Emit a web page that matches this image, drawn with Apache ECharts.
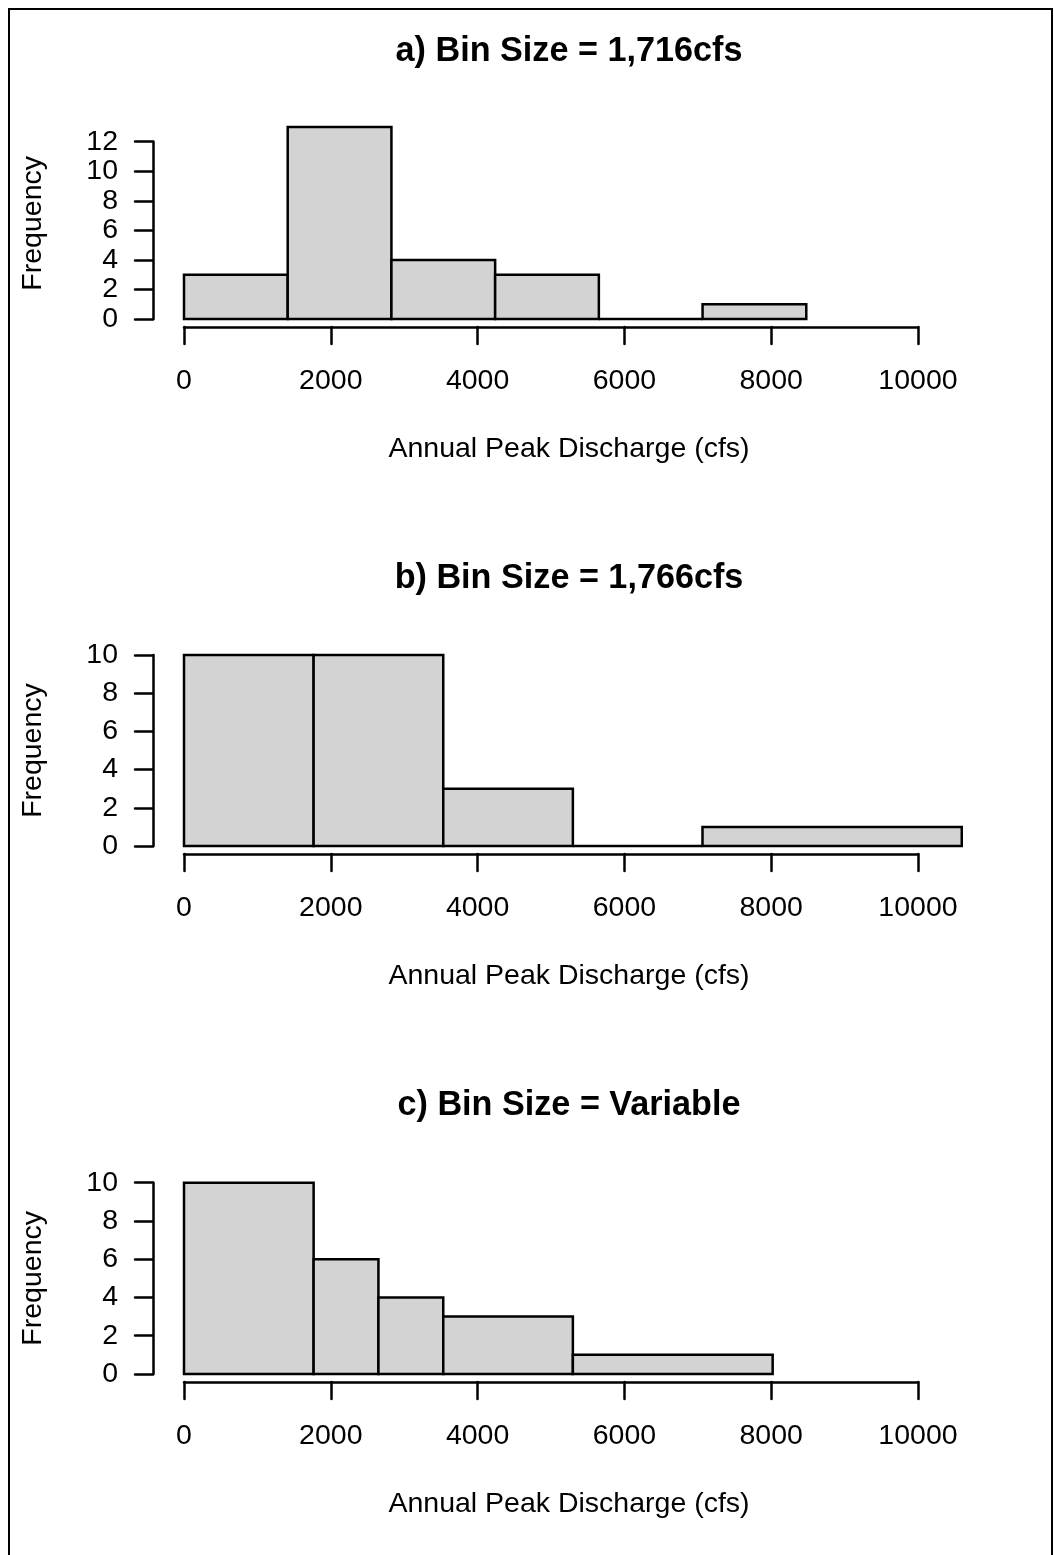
<!DOCTYPE html>
<html>
<head>
<meta charset="utf-8">
<title>Annual Peak Discharge Histograms</title>
<script src="https://cdn.jsdelivr.net/npm/echarts@6/dist/echarts.min.js"></script>
<style>
  html, body { margin: 0; padding: 0; background: #ffffff; }
  #chart { width: 1054px; height: 1555px; }
</style>
</head>
<body>
<div id="chart"></div>
<script>
// Histogram bin edges (cfs) and counts for each panel
const breaksA = [0, 1413, 2826, 4239, 5652, 7065, 8478];
const countsA = [3, 13, 4, 3, 0, 1];

const breaksB = [0, 1766, 3532, 5298, 7064, 10596];
const countsB = [10, 10, 3, 0, 1];

const breaksC = [0, 1766, 2649, 3532, 5298, 8020];
const countsC = [10, 6, 4, 3, 1];

const panelTitles = ['a) Bin Size = 1,716cfs', 'b) Bin Size = 1,766cfs', 'c) Bin Size = Variable'];
const xAxisTitle = 'Annual Peak Discharge (cfs)';
const yAxisTitle = 'Frequency';

// Axis ranges / tick steps
const xMin = 0, xMax = 10000, xStep = 2000;
const yMaxes = [12, 10, 10];
const yStep = 2;

const FONT = '"Liberation Sans", Arial, Helvetica, sans-serif';
const BASE = 28.5;
const LW = 2.5;

function toBins(breaks, counts) {
  return counts.map((c, i) => [breaks[i], breaks[i + 1], c]);
}
const binsList = [toBins(breaksA, countsA), toBins(breaksB, countsB), toBins(breaksC, countsC)];

// Grid boxes: x spans 0..10000, y spans 0..top tick
const grids = [
  { left: 184, width: 734, top: 141.7, height: 177.3 },
  { left: 184, width: 734, top: 655, height: 191 },
  { left: 184, width: 734, top: 1182.7, height: 191.3 }
];
const yNameShift = [14, 0, 0];
const titleTops = [34.5, 561.5, 1088.5];

const axisLineStyle = { color: '#000', width: LW, cap: 'round' };

const option = {
  animation: false,
  backgroundColor: '#ffffff',
  title: panelTitles.map((t, i) => ({
    text: t,
    left: 569,
    top: titleTops[i],
    textAlign: 'center',
    padding: 0,
    textStyle: { fontFamily: FONT, fontWeight: 'bold', fontSize: BASE * 1.2, lineHeight: 34, color: '#000' }
  })),
  grid: grids.map(g => Object.assign({ containLabel: false }, g)),
  xAxis: grids.map((g, i) => ({
    type: 'value',
    gridIndex: i,
    min: xMin, max: xMax, interval: xStep,
    offset: 8,
    axisLine: { show: true, onZero: false, lineStyle: axisLineStyle },
    axisTick: { show: true, inside: false, length: 17, lineStyle: axisLineStyle },
    splitLine: { show: false },
    axisLabel: { margin: 40, color: '#000', fontFamily: FONT, fontSize: BASE, formatter: v => String(v) },
    name: xAxisTitle,
    nameLocation: 'middle',
    nameGap: 108,
    nameTextStyle: { color: '#000', fontFamily: FONT, fontSize: BASE, padding: [0, 0, 0, 36] }
  })),
  yAxis: grids.map((g, i) => ({
    type: 'value',
    gridIndex: i,
    min: 0, max: yMaxes[i], interval: yStep,
    offset: 31,
    axisLine: { show: true, onZero: false, lineStyle: axisLineStyle },
    axisTick: { show: true, inside: false, length: 18, lineStyle: axisLineStyle },
    splitLine: { show: false },
    axisLabel: { margin: 35, color: '#000', fontFamily: FONT, fontSize: BASE, formatter: v => String(v) },
    name: yAxisTitle,
    nameLocation: 'middle',
    nameRotate: 90,
    nameGap: 105,
    nameTextStyle: { color: '#000', fontFamily: FONT, fontSize: BASE, padding: [0, 0, 0, yNameShift[i]] }
  })),
  series: binsList.map((bins, i) => ({
    type: 'custom',
    xAxisIndex: i,
    yAxisIndex: i,
    clip: false,
    encode: { x: [0, 1], y: 2 },
    data: bins,
    renderItem: function (params, api) {
      const p0 = api.coord([api.value(0), 0]);
      const p1 = api.coord([api.value(1), api.value(2)]);
      return {
        type: 'rect',
        shape: { x: p0[0], y: p1[1], width: p1[0] - p0[0], height: p0[1] - p1[1] },
        style: { fill: '#d3d3d3', stroke: '#000', lineWidth: LW }
      };
    }
  })),
  graphic: [{
    type: 'rect',
    silent: true,
    shape: { x: 9, y: 9, width: 1043, height: 1570 },
    style: { fill: null, stroke: '#000', lineWidth: 2 }
  }]
};

const chart = echarts.init(document.getElementById('chart'), null, { renderer: 'canvas' });
chart.setOption(option);
</script>
</body>
</html>
